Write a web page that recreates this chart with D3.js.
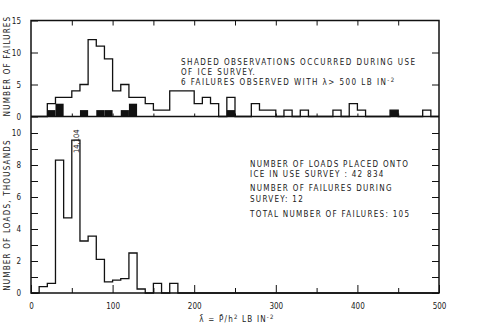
<!DOCTYPE html>
<html>
<head>
<meta charset="utf-8">
<script src="https://cdn.jsdelivr.net/npm/d3@7"></script>
<style>
  body { margin: 0; background: #fff; }
  svg { display: block; }
  text { font-family: "DejaVu Sans Condensed", "DejaVu Sans", sans-serif; fill: #1a1a1a; }
</style>
</head>
<body>
<svg></svg>
<script>
// bins are 10 lb/in^2 wide, keyed by lower edge
var binWidth = 10;
var failureBins = [20, 30, 40, 50, 60, 70, 80, 90, 100, 110, 120, 130, 140, 150, 160, 170, 180, 190, 200, 210, 220, 240, 270, 280, 290, 310, 330, 370, 390, 400, 440, 480];
var failureCounts = [2, 3, 3, 4, 5, 12, 11, 9, 4, 5, 3, 3, 2, 1, 1, 4, 4, 4, 2, 3, 2, 3, 2, 1, 1, 1, 1, 1, 2, 1, 1, 1];
var surveyBins = [20, 30, 60, 80, 90, 110, 120, 240, 440];
var surveyCounts = [1, 2, 1, 1, 1, 1, 2, 1, 1];
var loadBins = [10, 20, 30, 40, 50, 60, 70, 80, 90, 100, 110, 120, 130, 150, 170];
var loadCounts = [0.4, 0.6, 8.3, 4.7, 14.104, 3.25, 3.55, 2.1, 0.7, 0.8, 0.9, 2.5, 0.25, 0.6, 0.6];
var loadCap = 9.55; // tallest bar is cut off and labelled
var xTicks = [0, 100, 200, 300, 400, 500];
var topTicks = [0, 5, 10, 15];
var bottomTicks = [0, 2, 4, 6, 8, 10];

var width = 490, height = 324;
var pLeft = 31, pRight = 439, pTop = 20.5, pMid = 116.5, pBottom = 293;

var svg = d3.select("svg").attr("width", width).attr("height", height);

var x = d3.scaleLinear().domain([0, 500]).range([pLeft, pRight]);
var yTop = d3.scaleLinear().domain([0, 15]).range([pMid, pTop]);
var yBot = d3.scaleLinear().domain([0, 10]).range([pBottom, 133]);

function stepPoints(bins, counts) {
  var pts = [];
  for (var b = 0; b < 500; b += binWidth) {
    var i = bins.indexOf(b);
    pts.push([b, i < 0 ? 0 : counts[i]]);
  }
  pts.push([500, 0]);
  return pts;
}

// shaded survey failures
svg.append("g").selectAll("rect")
  .data(surveyBins)
  .enter()
  .append("rect")
    .attr("x", d => x(d))
    .attr("width", x(binWidth) - x(0))
    .attr("y", (d, i) => yTop(surveyCounts[i]))
    .attr("height", (d, i) => pMid - yTop(surveyCounts[i]))
    .attr("fill", "#111");

// failures histogram outline
var topLine = d3.line().x(d => x(d[0])).y(d => yTop(d[1])).curve(d3.curveStepAfter);
svg.append("path")
  .attr("d", topLine(stepPoints(failureBins, failureCounts)))
  .attr("fill", "none").attr("stroke", "#111").attr("stroke-width", 1.3);

// loads histogram outline
var botLine = d3.line().x(d => x(d[0])).y(d => yBot(Math.min(d[1], loadCap))).curve(d3.curveStepAfter);
svg.append("path")
  .attr("d", botLine(stepPoints(loadBins, loadCounts)))
  .attr("fill", "none").attr("stroke", "#111").attr("stroke-width", 1.3);

// frame
svg.append("rect")
  .attr("x", pLeft).attr("y", pTop)
  .attr("width", pRight - pLeft).attr("height", pBottom - pTop)
  .attr("fill", "none").attr("stroke", "#111").attr("stroke-width", 1.5);
svg.append("line")
  .attr("x1", pLeft).attr("x2", pRight).attr("y1", pMid).attr("y2", pMid)
  .attr("stroke", "#111").attr("stroke-width", 1.5);

// label on the cut bar
var peak = loadBins[loadCounts.indexOf(d3.max(loadCounts))];
svg.append("text")
  .attr("transform", "translate(" + (x(peak + 6)) + "," + (yBot(loadCap) + 1) + ") rotate(-90)")
  .attr("text-anchor", "middle")
  .attr("dy", "0.35em")
  .style("font-size", "7.5px")
  .text(d3.format(",")(d3.max(loadCounts) * 1000));

// axes
function clean(g) { g.select(".domain").remove(); g.selectAll("line").attr("stroke", "#111"); }
function labels(g) { g.selectAll("text").style("font-size", "8px").attr("font-family", null); }

svg.append("g")
  .attr("transform", "translate(" + pLeft + ",0)")
  .call(d3.axisLeft(yTop).tickValues(topTicks).tickSizeInner(-7).tickSizeOuter(0).tickPadding(10))
  .call(clean).call(labels);
svg.append("g")
  .attr("transform", "translate(" + pRight + ",0)")
  .call(d3.axisRight(yTop).tickValues([5, 10]).tickSizeInner(-7).tickSizeOuter(0).tickFormat(""))
  .call(clean);

svg.append("g")
  .attr("transform", "translate(" + pLeft + ",0)")
  .call(d3.axisLeft(yBot).ticks(10).tickSizeInner(-7).tickSizeOuter(0).tickFormat(""))
  .call(clean);
svg.append("g")
  .attr("transform", "translate(" + pLeft + ",0)")
  .call(d3.axisLeft(yBot).tickValues(bottomTicks).tickSize(0).tickPadding(10))
  .call(clean).call(labels);
svg.append("g")
  .attr("transform", "translate(" + pRight + ",0)")
  .call(d3.axisRight(yBot).ticks(10).tickSizeInner(-7).tickSizeOuter(0).tickFormat(""))
  .call(clean);

// x ticks
var fifties = d3.range(50, 500, 50);
svg.append("g")
  .attr("transform", "translate(0," + pTop + ")")
  .call(d3.axisTop(x).tickValues(fifties).tickSizeInner(-5).tickSizeOuter(0).tickFormat(""))
  .call(clean);
svg.append("g")
  .attr("transform", "translate(0," + pMid + ")")
  .call(d3.axisBottom(x).tickValues(fifties).tickSizeInner(3).tickSizeOuter(0).tickFormat(""))
  .call(g => g.selectAll("line").attr("y1", -3).attr("y2", 0))
  .call(clean);
svg.append("g")
  .attr("transform", "translate(0," + pBottom + ")")
  .call(d3.axisBottom(x).tickValues(fifties.filter(d => d % 100 !== 0)).tickSizeInner(-5).tickSizeOuter(0).tickFormat(""))
  .call(clean);
svg.append("g")
  .attr("transform", "translate(0," + pBottom + ")")
  .call(d3.axisBottom(x).tickValues(xTicks).tickSizeInner(-8).tickSizeOuter(0).tickPadding(10))
  .call(clean).call(labels);

// axis titles
svg.append("text")
  .attr("transform", "translate(10,66) rotate(-90)")
  .attr("text-anchor", "middle")
  .style("font-size", "8px").style("letter-spacing", "1.2px")
  .text("NUMBER OF FAILURES");
svg.append("text")
  .attr("transform", "translate(10,215) rotate(-90)")
  .attr("text-anchor", "middle")
  .style("font-size", "8px").style("letter-spacing", "1.2px")
  .text("NUMBER OF LOADS, THOUSANDS");

var xt = svg.append("text")
  .attr("x", 237).attr("y", 322)
  .attr("text-anchor", "middle")
  .style("font-size", "8px").style("letter-spacing", "1.2px");
xt.append("tspan").text("λ̄ = P̄/h");
xt.append("tspan").attr("dy", -3).style("font-size", "6px").text("2");
xt.append("tspan").attr("dy", 3).text("  LB IN");
xt.append("tspan").attr("dy", -3).style("font-size", "6px").text("-2");

// notes
var topNote = ["SHADED OBSERVATIONS OCCURRED DURING USE", "OF ICE SURVEY.", "6 FAILURES OBSERVED WITH λ> 500 LB IN"];
topNote.forEach(function(t, i) {
  var el = svg.append("text")
    .attr("x", 181).attr("y", 64.5 + i * 10)
    .style("font-size", "8px").style("letter-spacing", "1.45px")
    .text(t);
  if (i === 2) el.append("tspan").attr("dy", -3).style("font-size", "6px").text("-2");
});

var botNote = [
  ["NUMBER OF LOADS PLACED ONTO", 166.5],
  ["ICE IN USE SURVEY : 42 834", 177],
  ["NUMBER OF FAILURES DURING", 191],
  ["SURVEY: 12", 201.5],
  ["TOTAL NUMBER OF FAILURES: 105", 217]
];
botNote.forEach(function(d) {
  svg.append("text")
    .attr("x", 250).attr("y", d[1])
    .style("font-size", "8px").style("letter-spacing", "1.3px")
    .text(d[0]);
});
</script>
</body>
</html>
